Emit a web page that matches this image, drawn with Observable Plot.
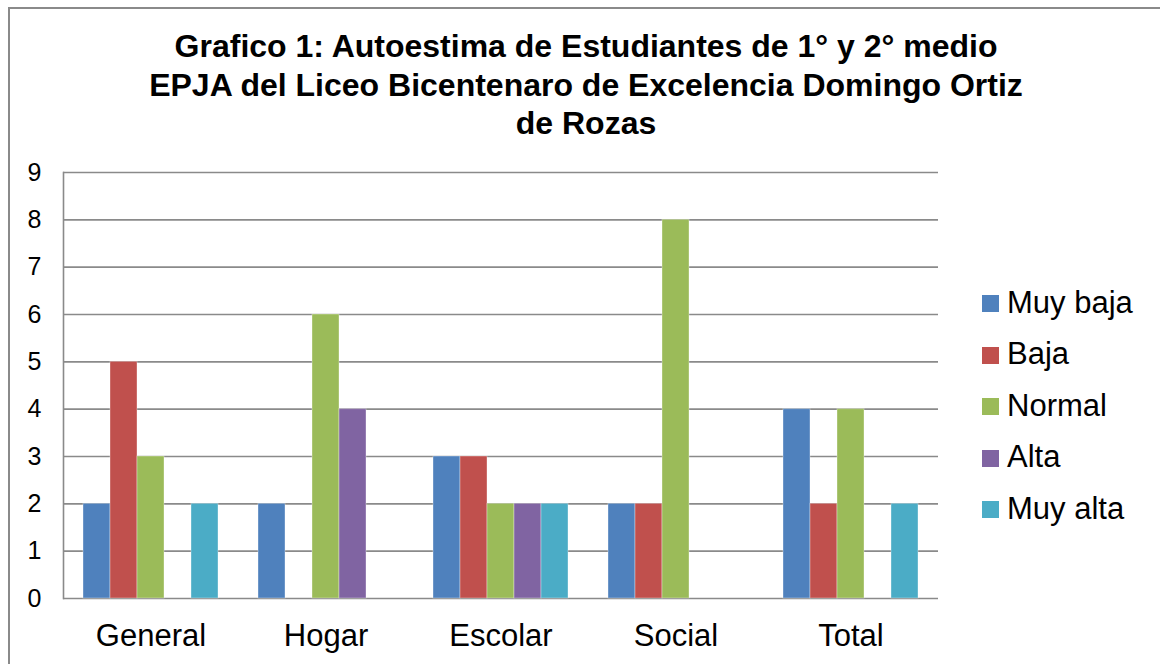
<!DOCTYPE html>
<html>
<head>
<meta charset="utf-8">
<script src="https://cdn.jsdelivr.net/npm/d3@7"></script>
<script src="https://cdn.jsdelivr.net/npm/@observablehq/plot@0.6"></script>
<style>
  html, body { margin: 0; padding: 0; background: #fff; overflow: hidden; }
  body { width: 1160px; height: 664px; position: relative; font-family: "Liberation Sans", Arial, sans-serif; }
  #frame { position: absolute; left: 8px; top: 7px; width: 1300px; height: 800px; border: 2px solid #8a8a8a; box-sizing: border-box; }
  #title { position: absolute; left: 0; top: 27px; width: 1172px; text-align: center; font-weight: bold; font-size: 32px; line-height: 38.5px; color: #000; }
  #chart { position: absolute; left: 0; top: 150px; }
  #legend { position: absolute; left: 982px; top: 278px; }
  .item { height: 51.5px; display: flex; align-items: center; font-size: 31px; color: #000; margin-top: 0; }
  .sw { width: 17px; height: 17px; margin-right: 8px; flex: none; }
  .lab { position: relative; top: -1px; }
</style>
</head>
<body>
<div id="frame"></div>
<div id="title">Grafico 1: Autoestima de Estudiantes de 1° y 2° medio<br>EPJA del Liceo Bicentenaro de Excelencia Domingo Ortiz<br>de Rozas</div>
<div id="chart"></div>
<div id="legend"></div>
<script>
const categories = ["General", "Hogar", "Escolar", "Social", "Total"];
const series = ["Muy baja", "Baja", "Normal", "Alta", "Muy alta"];
const colors = ["#4F81BD", "#C0504D", "#9BBB59", "#8064A2", "#4BACC6"];
const muyBaja = [2, 2, 3, 2, 4];
const baja    = [5, 0, 3, 2, 2];
const normal  = [3, 6, 2, 8, 4];
const alta    = [0, 4, 2, 0, 0];
const muyAlta = [2, 0, 2, 0, 2];
const yTicks = [0, 1, 2, 3, 4, 5, 6, 7, 8, 9];

const seriesValues = [muyBaja, baja, normal, alta, muyAlta];
const data = [];
categories.forEach((c, i) => {
  series.forEach((s, j) => data.push({category: c, series: s, value: seriesValues[j][i]}));
});

const plot = Plot.plot({
  width: 940,
  height: 514,
  marginTop: 22,
  marginBottom: 66,
  marginLeft: 63,
  marginRight: 2,
  style: {fontFamily: '"Liberation Sans", Arial, sans-serif', color: "#000", background: "transparent"},
  fx: {domain: categories, paddingInner: 0, paddingOuter: 0, label: null},
  x: {domain: series, paddingInner: 0, paddingOuter: 0.74, axis: null},
  y: {domain: [0, 9], label: null},
  color: {domain: series, range: colors},
  marks: [
    Plot.ruleY(yTicks, {stroke: "#8a8a8a", strokeWidth: 1.6}),
    Plot.frame({anchor: "left", facetAnchor: "left", stroke: "#8a8a8a", strokeWidth: 1.6}),
    Plot.barY(data.filter(d => d.value > 0), {fx: "category", x: "series", y: "value", fill: "series", stroke: "#ffffff", strokeOpacity: 0.35, strokeWidth: 1}),
    Plot.axisY({ticks: yTicks, tickSize: 0, tickPadding: 22, fontSize: 25, tickFormat: d => String(d), label: null}),
    Plot.axisFx({anchor: "bottom", tickSize: 0, tickPadding: 25, fontSize: 31, label: null})
  ]
});
document.getElementById("chart").appendChild(plot);

const legend = document.getElementById("legend");
series.forEach((s, i) => {
  const item = document.createElement("div");
  item.className = "item";
  const sw = document.createElement("div");
  sw.className = "sw";
  sw.style.background = colors[i];
  const lab = document.createElement("span");
  lab.className = "lab";
  lab.textContent = s;
  item.appendChild(sw);
  item.appendChild(lab);
  legend.appendChild(item);
});
</script>
</body>
</html>
